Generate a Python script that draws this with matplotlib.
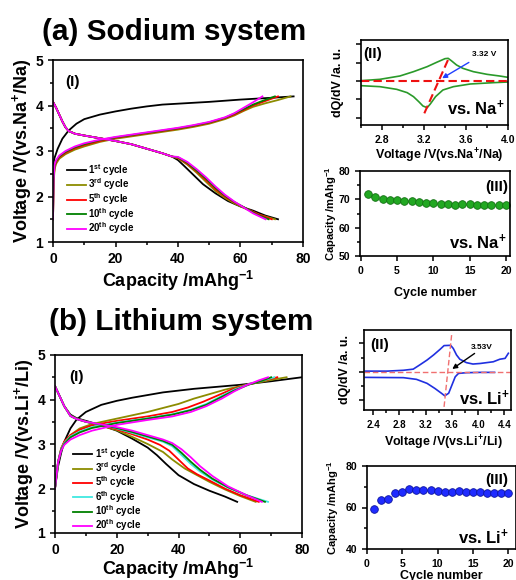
import matplotlib
matplotlib.use("Agg")
import matplotlib.pyplot as plt
from matplotlib.ticker import MultipleLocator, NullFormatter

plt.rcParams['font.family'] = ['Liberation Sans', 'DejaVu Sans']
plt.rcParams['font.weight'] = 'bold'
plt.rcParams['mathtext.fontset'] = 'custom'
plt.rcParams['mathtext.rm'] = 'Liberation Sans:bold'
plt.rcParams['mathtext.bf'] = 'Liberation Sans:bold'
plt.rcParams['mathtext.it'] = 'Liberation Sans:bold'
plt.rcParams['axes.linewidth'] = 1.2

W, H = 516, 580

# ---- sodium system, charge / discharge (capacity mAh/g, voltage V) ----
na_cycles = [1, 3, 5, 10, 20]
na_charge = {
    1: [(0, 2.7), (0.5, 2.85), (1.5, 3.05), (3, 3.27), (5, 3.45), (7.5, 3.6), (10, 3.7),
        (15, 3.8), (20, 3.87), (25, 3.93), (30, 3.98), (35, 4.02), (40, 4.04), (50, 4.08),
        (60, 4.13), (70, 4.17), (77, 4.2)],
    3: [(0, 1.5), (0.2, 2.3), (0.5, 2.6), (1, 2.72), (2, 2.83), (4, 2.93), (7, 3.03), (10, 3.1),
        (15, 3.2), (20, 3.27), (25, 3.32), (30, 3.37), (35, 3.42), (40, 3.47), (45, 3.53),
        (50, 3.6), (55, 3.7), (58, 3.78), (61, 3.88), (64, 3.97), (68, 4.05), (72, 4.12), (76, 4.2)],
    5: [(0, 1.5), (0.2, 2.35), (0.5, 2.65), (1, 2.76), (2, 2.86), (4, 2.96), (7, 3.06), (10, 3.13),
        (15, 3.22), (20, 3.29), (25, 3.34), (30, 3.39), (35, 3.44), (40, 3.49), (45, 3.55),
        (50, 3.62), (55, 3.72), (58, 3.8), (61, 3.9), (64, 4.0), (68, 4.1), (72, 4.2)],
    10: [(0, 1.5), (0.2, 2.38), (0.5, 2.68), (1, 2.78), (2, 2.88), (4, 2.98), (7, 3.08), (10, 3.15),
         (15, 3.24), (20, 3.3), (25, 3.35), (30, 3.4), (35, 3.45), (40, 3.5), (45, 3.56),
         (50, 3.63), (55, 3.73), (58, 3.82), (61, 3.92), (64, 4.02), (67, 4.1), (71, 4.2)],
    20: [(0, 1.5), (0.2, 2.4), (0.5, 2.7), (1, 2.8), (2, 2.9), (4, 3.0), (7, 3.1), (10, 3.17),
         (15, 3.25), (20, 3.31), (25, 3.36), (30, 3.41), (35, 3.46), (40, 3.51), (45, 3.57),
         (50, 3.64), (55, 3.74), (58, 3.83), (61, 3.95), (64, 4.07), (67, 4.2)],
}
na_discharge_head = [(0, 4.08), (1, 3.95), (2, 3.8), (3, 3.65), (4, 3.52), (5, 3.44), (7, 3.38),
                     (10, 3.34), (15, 3.28), (20, 3.22), (25, 3.15), (30, 3.05), (35, 2.95), (38, 2.88)]
na_discharge_tail = {
    1: [(40, 2.8), (42, 2.67), (45, 2.47), (48, 2.27), (52, 2.07), (56, 1.9), (60, 1.78),
        (64, 1.69), (68, 1.58), (72, 1.5)],
    3: [(40, 2.84), (43, 2.7), (46, 2.52), (49, 2.32), (52, 2.12), (55, 1.97), (58, 1.85),
        (62, 1.72), (66, 1.6), (71, 1.5)],
    5: [(40, 2.85), (43, 2.72), (46, 2.55), (49, 2.36), (52, 2.16), (55, 2.0), (58, 1.87),
        (62, 1.73), (66, 1.6), (70, 1.5)],
    10: [(40, 2.86), (43, 2.74), (46, 2.57), (49, 2.39), (52, 2.19), (55, 2.02), (58, 1.88),
         (62, 1.73), (65, 1.61), (69, 1.5)],
    20: [(40, 2.87), (43, 2.76), (46, 2.6), (49, 2.42), (52, 2.22), (55, 2.04), (58, 1.89),
         (61, 1.76), (64, 1.63), (68, 1.5)],
}

# ---- lithium system ----
li_cycles = [1, 3, 5, 6, 10, 20]
li_charge = {
    1: [(0, 2.0), (1, 2.5), (2, 2.8), (3, 3.05), (5, 3.35), (7, 3.55), (10, 3.72), (15, 3.88),
        (20, 3.97), (25, 4.04), (30, 4.1), (35, 4.16), (40, 4.2), (45, 4.24), (50, 4.27),
        (60, 4.33), (70, 4.41), (80, 4.5)],
    3: [(0, 2.0), (1, 2.6), (2, 2.9), (3, 3.05), (5, 3.2), (8, 3.35), (12, 3.45), (20, 3.57),
        (30, 3.72), (40, 3.9), (45, 4.02), (50, 4.12), (55, 4.22), (60, 4.3), (65, 4.37),
        (70, 4.44), (75, 4.5)],
    5: [(0, 2.0), (1, 2.6), (2, 2.9), (3, 3.05), (5, 3.2), (8, 3.32), (12, 3.42), (20, 3.52),
        (30, 3.62), (38, 3.72), (43, 3.82), (48, 3.95), (53, 4.1), (57, 4.22), (62, 4.33),
        (66, 4.4), (72, 4.5)],
    6: [(0, 2.0), (1, 2.6), (2, 2.88), (3, 3.02), (5, 3.17), (8, 3.28), (12, 3.38), (20, 3.48),
        (30, 3.58), (38, 3.67), (44, 3.77), (49, 3.9), (54, 4.08), (58, 4.22), (63, 4.35),
        (67, 4.42), (71, 4.5)],
    10: [(0, 2.0), (1, 2.6), (2, 2.87), (3, 3.0), (5, 3.15), (8, 3.26), (12, 3.36), (20, 3.47),
         (30, 3.57), (38, 3.66), (44, 3.76), (49, 3.88), (54, 4.06), (58, 4.2), (63, 4.34),
         (67, 4.42), (70, 4.5)],
    20: [(0, 2.0), (1, 2.6), (2, 2.85), (3, 2.98), (5, 3.1), (8, 3.2), (12, 3.3), (20, 3.43),
         (30, 3.54), (38, 3.62), (44, 3.72), (49, 3.85), (54, 4.02), (58, 4.18), (62, 4.32),
         (66, 4.43), (69, 4.5)],
}
li_discharge = {
    1: [(0, 4.3), (1, 4.15), (2, 4.0), (3, 3.85), (5, 3.66), (7, 3.58), (10, 3.52), (15, 3.42),
        (20, 3.3), (25, 3.12), (30, 2.92), (33, 2.75), (36, 2.55), (40, 2.3), (45, 2.1),
        (50, 1.95), (55, 1.82), (59, 1.7)],
    3: [(0, 4.3), (1, 4.15), (2, 4.0), (3, 3.85), (5, 3.64), (7, 3.57), (10, 3.5), (15, 3.41),
        (20, 3.31), (25, 3.16), (30, 3.0), (35, 2.82), (38, 2.65), (42, 2.45), (46, 2.3),
        (50, 2.15), (55, 1.98), (60, 1.83), (65, 1.7)],
    5: [(0, 4.3), (1, 4.15), (2, 4.0), (3, 3.85), (5, 3.63), (7, 3.56), (10, 3.5), (15, 3.42),
        (20, 3.33), (25, 3.22), (30, 3.1), (34, 2.98), (37, 2.85), (40, 2.65), (43, 2.45),
        (46, 2.32), (50, 2.18), (55, 2.0), (60, 1.85), (66, 1.7)],
    6: [(0, 4.3), (1, 4.15), (2, 4.0), (3, 3.85), (5, 3.63), (7, 3.56), (10, 3.5), (15, 3.43),
        (20, 3.35), (25, 3.25), (30, 3.15), (35, 3.05), (38, 2.95), (41, 2.75), (44, 2.55),
        (47, 2.38), (51, 2.2), (56, 2.02), (62, 1.85), (69, 1.7)],
    10: [(0, 4.3), (1, 4.15), (2, 4.0), (3, 3.85), (5, 3.63), (7, 3.56), (10, 3.5), (15, 3.43),
         (20, 3.36), (25, 3.27), (30, 3.17), (35, 3.07), (38, 2.98), (41, 2.8), (44, 2.6),
         (47, 2.42), (51, 2.22), (56, 2.03), (62, 1.85), (68, 1.7)],
    20: [(0, 4.3), (1, 4.15), (2, 4.0), (3, 3.85), (5, 3.63), (7, 3.56), (10, 3.5), (15, 3.44),
         (20, 3.38), (25, 3.3), (30, 3.2), (35, 3.1), (38, 3.02), (41, 2.88), (44, 2.7),
         (47, 2.5), (51, 2.28), (56, 2.05), (62, 1.85), (67, 1.7)],
}

cycle_colors = {1: '#000000', 3: '#8c8c00', 5: '#ff0000', 6: '#40e8e0', 10: '#008000', 20: '#ff00ff'}
suffix = {1: 'st', 3: 'rd', 5: 'th', 6: 'th', 10: 'th', 20: 'th'}

# ---- dQ/dV (arbitrary units) ----
na_dqdv_up_v = [2.6, 2.78, 2.97, 3.1, 3.23, 3.32, 3.4, 3.43, 3.46, 3.51, 3.57, 3.67, 3.8, 3.92, 4.0]
na_dqdv_up_y = [0.01, 0.05, 0.15, 0.28, 0.43, 0.56, 0.67, 0.68, 0.61, 0.48, 0.38, 0.28, 0.2, 0.15, 0.11]
na_dqdv_dn_v = [2.6, 2.78, 2.94, 3.04, 3.1, 3.15, 3.19, 3.23, 3.26, 3.31, 3.38, 3.48, 3.64, 3.86, 4.0]
na_dqdv_dn_y = [-0.14, -0.17, -0.25, -0.35, -0.47, -0.62, -0.75, -0.8, -0.69, -0.47, -0.27, -0.17,
                -0.09, -0.05, -0.03]
na_tangent_v = [3.203, 3.438]
na_tangent_y = [-0.97, 0.70]

li_dqdv_up_v = [2.28, 2.61, 2.86, 3.01, 3.11, 3.22, 3.32, 3.42, 3.48, 3.58, 3.62, 3.67, 3.72,
                3.82, 3.92, 4.03, 4.13, 4.23, 4.33, 4.41, 4.46]
li_dqdv_up_y = [0.02, 0.02, 0.05, 0.09, 0.24, 0.41, 0.59, 0.79, 0.92, 0.93, 0.82, 0.59, 0.44,
                0.32, 0.27, 0.29, 0.32, 0.35, 0.44, 0.47, 0.65]
li_dqdv_dn_v = [2.28, 2.86, 3.06, 3.22, 3.34, 3.44, 3.49, 3.55, 3.6, 3.65, 3.7, 3.82, 4.03, 4.25]
li_dqdv_dn_y = [-0.2, -0.21, -0.27, -0.41, -0.59, -0.76, -0.85, -0.76, -0.47, -0.18, -0.06,
                -0.035, -0.024, -0.024]
li_tangent_v = [3.48, 3.595]
li_tangent_y = [-1.24, 1.29]

# ---- cycling ----
cycle_no = list(range(1, 21))
na_capacity = [71.8, 70.7, 70.2, 69.9, 69.8, 69.3, 69.3, 68.9, 68.8, 68.6,
               68.5, 68.4, 68.1, 68.2, 68.2, 68.1, 68.0, 68.0, 67.9, 68.0]
li_capacity = [59.2, 63.5, 64.3, 67.2, 67.5, 69.0, 68.6, 68.5, 68.2, 68.0,
               67.7, 67.7, 68.0, 67.7, 67.7, 67.4, 67.2, 67.2, 67.2, 67.0]


def px_axes(fig, left, top, right, bottom):
    return fig.add_axes([left / W, 1 - bottom / H, (right - left) / W, (bottom - top) / H])


def style(ax, size):
    ax.tick_params(which='both', direction='out', width=1.1, labelsize=size)
    ax.tick_params(which='major', length=3.5)
    ax.tick_params(which='minor', length=2)
    for lab in ax.get_xticklabels() + ax.get_yticklabels():
        lab.set_fontweight('bold')


def ftext(fig, x, y, s, size, **kw):
    fig.text(x / W, 1 - y / H, s, fontsize=size, fontweight='bold', ha='center', va='center', **kw)


fig = plt.figure(figsize=(W / 100, H / 100), dpi=100)

# ================= (a) sodium =================
ax = px_axes(fig, 53, 60, 303, 242)
for c in na_cycles:
    cap, v = zip(*na_charge[c])
    ax.plot(cap, v, color=cycle_colors[c], lw=1.3)
    cap, v = zip(*(na_discharge_head + na_discharge_tail[c]))
    ax.plot(cap, v, color=cycle_colors[c], lw=1.3, label=f'{c}$^{{{suffix[c]}}}$ cycle')
ax.set_xlim(0, 80)
ax.set_ylim(1, 5)
ax.xaxis.set_major_locator(MultipleLocator(20))
ax.xaxis.set_minor_locator(MultipleLocator(10))
ax.yaxis.set_major_locator(MultipleLocator(1))
ax.yaxis.set_minor_locator(MultipleLocator(0.5))
style(ax, 10)
ax.set_xlabel('Capacity /mAhg$^{-1}$', fontsize=13, fontweight='bold')
ax.set_ylabel('Voltage /V(vs.Na$^{+}$/Na)', fontsize=13, fontweight='bold')
ax.xaxis.set_label_coords(0.5, -0.15)
ax.yaxis.set_label_coords(-0.076, 0.5)
ax.legend(loc='upper left', bbox_to_anchor=(0.056, 0.44), frameon=False,
          handlelength=2.0, handletextpad=0.2, labelspacing=-0.12, borderpad=0, borderaxespad=0,
          prop={'weight': 'bold', 'size': 7})

ax = px_axes(fig, 361, 40, 508, 125)
ax.plot(na_dqdv_up_v, na_dqdv_up_y, color='#2a9a2a', lw=1.2)
ax.plot(na_dqdv_dn_v, na_dqdv_dn_y, color='#2a9a2a', lw=1.2)
ax.axhline(0, color='#ee1111', ls=(0, (4, 2)), lw=1.5)
ax.plot(na_tangent_v, na_tangent_y, color='#ee1111', ls=(0, (4, 2)), lw=1.5)
ax.annotate('', xy=(3.35, 0.04), xytext=(3.65, 0.6),
            arrowprops=dict(arrowstyle='-|>', color='#2040ff', lw=1.0, mutation_scale=7))
ax.text(3.77, 0.8, '3.32 V', fontsize=6, fontweight='bold', ha='center', va='center')
ax.set_xlim(2.6, 4.0)
ax.set_ylim(-1.32, 1.23)
ax.xaxis.set_major_locator(MultipleLocator(0.4))
ax.xaxis.set_minor_locator(MultipleLocator(0.2))
ax.set_yticks([-1.1, -0.55, 0, 0.55, 1.1])
ax.yaxis.set_major_formatter(NullFormatter())
style(ax, 7.5)
ax.set_xlabel('Voltage /V(vs.Na$^{+}$/Na)', fontsize=9, fontweight='bold')
ax.set_ylabel('dQ/dV /a. u.', fontsize=9, fontweight='bold')
ax.xaxis.set_label_coords(0.535, -0.25)
ax.yaxis.set_label_coords(-0.116, 0.5)

ax = px_axes(fig, 360, 171, 510, 256)
ax.plot(cycle_no, na_capacity, 'o', ms=5.5, mfc='#22a822', mec='#137013', mew=0.6)
ax.set_xlim(-0.1, 20.55)
ax.set_ylim(50, 80)
ax.xaxis.set_major_locator(MultipleLocator(5))
ax.yaxis.set_major_locator(MultipleLocator(10))
ax.yaxis.set_minor_locator(MultipleLocator(5))
style(ax, 7.5)
ax.set_xlabel('Cycle number', fontsize=9, fontweight='bold')
ax.set_ylabel('Capacity /mAhg$^{-1}$', fontsize=8, fontweight='bold')
ax.xaxis.set_label_coords(0.5, -0.36)
ax.yaxis.set_label_coords(-0.14, 0.5)

# ================= (b) lithium =================
ax = px_axes(fig, 55, 355, 302, 533)
for c in li_cycles:
    cap, v = zip(*li_charge[c])
    ax.plot(cap, v, color=cycle_colors[c], lw=1.3)
    cap, v = zip(*li_discharge[c])
    ax.plot(cap, v, color=cycle_colors[c], lw=1.3, label=f'{c}$^{{{suffix[c]}}}$ cycle')
ax.set_xlim(0, 80)
ax.set_ylim(1, 5)
ax.xaxis.set_major_locator(MultipleLocator(20))
ax.xaxis.set_minor_locator(MultipleLocator(10))
ax.yaxis.set_major_locator(MultipleLocator(1))
ax.yaxis.set_minor_locator(MultipleLocator(0.5))
style(ax, 10)
ax.set_xlabel('Capacity /mAhg$^{-1}$', fontsize=13, fontweight='bold')
ax.set_ylabel('Voltage /V(vs.Li$^{+}$/Li)', fontsize=13, fontweight='bold')
ax.xaxis.set_label_coords(0.5, -0.135)
ax.yaxis.set_label_coords(-0.077, 0.5)
ax.legend(loc='upper left', bbox_to_anchor=(0.073, 0.49), frameon=False,
          handlelength=2.0, handletextpad=0.3, labelspacing=-0.15, borderpad=0, borderaxespad=0,
          prop={'weight': 'bold', 'size': 7})

ax = px_axes(fig, 364, 330, 511, 410)
ax.plot(li_dqdv_up_v, li_dqdv_up_y, color='#2030e0', lw=1.2)
ax.plot(li_dqdv_dn_v, li_dqdv_dn_y, color='#2030e0', lw=1.2)
ax.axhline(0, color='#f07070', ls=(0, (4, 2)), lw=1.0)
ax.plot(li_tangent_v, li_tangent_y, color='#f07070', ls=(0, (4, 2)), lw=1.0)
ax.annotate('', xy=(3.57, 0.04), xytext=(3.98, 0.7),
            arrowprops=dict(arrowstyle='-|>', color='black', lw=1.0, mutation_scale=7))
ax.text(4.05, 0.85, '3.53V', fontsize=6, fontweight='bold', ha='center', va='center')
ax.set_xlim(2.26, 4.5)
ax.set_ylim(-1.35, 1.47)
ax.xaxis.set_minor_locator(MultipleLocator(0.2))
ax.set_xticks([2.4, 2.8, 3.2, 3.6, 4.0, 4.4])
ax.set_yticks([-1, 0, 1])
ax.set_yticks([-0.5, 0.5], minor=True)
ax.yaxis.set_major_formatter(NullFormatter())
style(ax, 7)
ax.set_xlabel('Voltage /V(vs.Li$^{+}$/Li)', fontsize=9, fontweight='bold')
ax.set_ylabel('dQ/dV /a. u.', fontsize=9, fontweight='bold')
ax.xaxis.set_label_coords(0.537, -0.3)
ax.yaxis.set_label_coords(-0.088, 0.5)

ax = px_axes(fig, 367, 466, 516, 549)
ax.plot(cycle_no, li_capacity, 'o', ms=5.5, mfc='#1f2bff', mec='#0c14a0', mew=0.6)
ax.set_xlim(0, 21.1)
ax.set_ylim(40, 80)
ax.xaxis.set_major_locator(MultipleLocator(5))
ax.yaxis.set_major_locator(MultipleLocator(20))
ax.yaxis.set_minor_locator(MultipleLocator(10))
style(ax, 7.5)
ax.set_xlabel('Cycle number', fontsize=9, fontweight='bold')
ax.set_ylabel('Capacity /mAhg$^{-1}$', fontsize=8, fontweight='bold')
ax.xaxis.set_label_coords(0.5, -0.25)
ax.yaxis.set_label_coords(-0.174, 0.5)

# ---- titles and panel tags ----
fig.text(42 / W, 1 - 40 / H, '(a) Sodium system', fontsize=21.4, fontweight='bold', va='baseline')
fig.text(49 / W, 1 - 330 / H, '(b) Lithium system', fontsize=21.4, fontweight='bold', va='baseline')
ftext(fig, 72, 82, '(I)', 11)
ftext(fig, 77, 377, '(I)', 11)
ftext(fig, 373, 54, '(II)', 11)
ftext(fig, 380, 345, '(II)', 11)
ftext(fig, 497, 187, '(III)', 11)
ftext(fig, 497, 480, '(III)', 11)
ftext(fig, 476, 108, 'vs. Na$^{+}$', 12)
ftext(fig, 478, 242, 'vs. Na$^{+}$', 12)
ftext(fig, 485, 398, 'vs. Li$^{+}$', 12)
ftext(fig, 484, 537, 'vs. Li$^{+}$', 12)

fig.savefig('out.png', dpi=100)
